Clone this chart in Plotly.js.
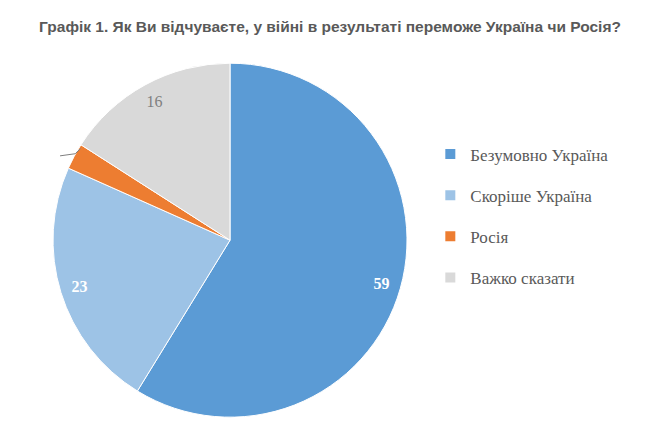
<!DOCTYPE html>
<html>
<head>
<meta charset="utf-8">
<script src="https://cdn.plot.ly/plotly-3.0.1.min.js"></script>
<style>
  body { margin: 0; background: #fff; }
  #chart { width: 660px; height: 427px; }
</style>
</head>
<body>
<div id="chart"></div>
<script>
/*
 Data
*/

var labels = ["Безумовно Україна", "Скоріше Україна", "Росія", "Важко сказати"];
var values = [59, 23, 2.4, 16];
var colors = ["#5b9bd5", "#9dc3e6", "#ed7d31", "#d9d9d9"];
var shown = ["59", "23", "", "16"];
var text_colors = ["#ffffff", "#ffffff", "#ffffff", "#7f7f7f"];

/*
 Chart
*/

var pie_domain = {x: [0.08, 0.617], y: [0.023, 0.852]};

// the slices themselves
var pie = {
  type: "pie",
  labels: labels,
  values: values,
  textinfo: "none",
  sort: false,
  direction: "clockwise",
  rotation: 0,
  hoverinfo: "none",
  showlegend: false,
  marker: {
    colors: colors,
    line: {color: "#ffffff", width: 1}
  },
  domain: pie_domain
};

// same slices again, as a transparent ring, so the numbers sit near the rim
var ring = {
  type: "pie",
  labels: labels,
  values: values,
  text: shown,
  textinfo: "text",
  textposition: "inside",
  insidetextorientation: "horizontal",
  hole: 0.78,
  sort: false,
  direction: "clockwise",
  rotation: 0,
  hoverinfo: "none",
  showlegend: false,
  marker: {
    colors: ["rgba(0,0,0,0)", "rgba(0,0,0,0)", "rgba(0,0,0,0)", "rgba(0,0,0,0)"],
    line: {width: 0}
  },
  insidetextfont: {
    family: "Liberation Serif",
    size: 16,
    color: text_colors,
    weight: [700, 700, 400, 400]
  },
  domain: pie_domain
};

// legend entries, one per slice, so they can be spaced out
var legend_items = labels.map(function(name, i) {
  return {
    type: "scatter",
    mode: "markers",
    x: [null],
    y: [null],
    name: name,
    legendgroup: "g" + i,
    marker: {symbol: "square", size: 10, color: colors[i]},
    hoverinfo: "none"
  };
});

var layout = {
  width: 660,
  height: 427,
  margin: {l: 0, r: 0, t: 0, b: 0},
  paper_bgcolor: "#ffffff",
  plot_bgcolor: "rgba(0,0,0,0)",
  showlegend: true,
  xaxis: {visible: false},
  yaxis: {visible: false},
  title: {
    text: "<b>Графік 1. Як Ви відчуваєте, у війні в результаті переможе Україна чи Росія?</b>",
    font: {family: "Liberation Sans", size: 15.5, color: "#595959"},
    x: 0.5,
    xanchor: "center",
    y: 0.937,
    yanchor: "middle"
  },
  legend: {
    x: 0.652,
    xanchor: "left",
    y: 0.494,
    yanchor: "middle",
    tracegroupgap: 16,
    font: {family: "Liberation Serif", size: 17, color: "#595959"}
  },
  shapes: [{
    type: "path",
    xref: "paper",
    yref: "paper",
    path: "M 0.091 0.635 L 0.114 0.64 L 0.122 0.652",
    line: {color: "#7f7f7f", width: 1}
  }]
};

var config = {
  displayModeBar: false,
  staticPlot: true
};

Plotly.newPlot("chart", [pie, ring].concat(legend_items), layout, config);
</script>
</body>
</html>
